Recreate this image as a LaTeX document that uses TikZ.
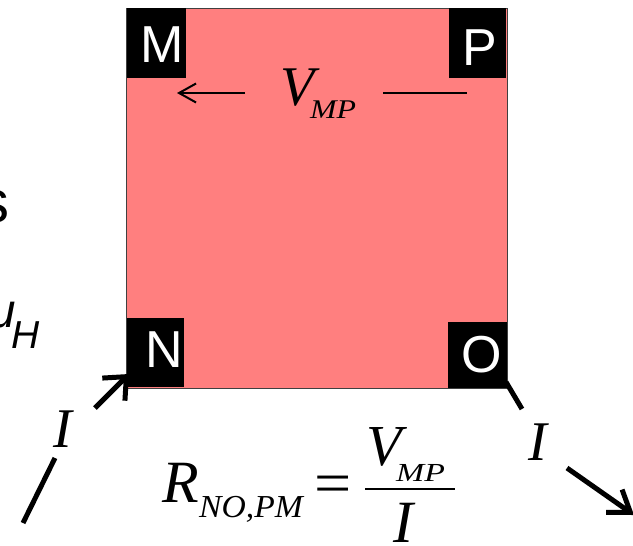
\documentclass[tikz,border=0pt]{standalone}
\usepackage{fontspec}
\setmainfont{Liberation Serif}
\newfontfamily\arialf{Liberation Sans}
\usetikzlibrary{arrows.meta}
\newcommand\myfs[1]{\fontsize{#1}{#1}\selectfont}
\definecolor{sqfill}{HTML}{FF7F7F}
\begin{document}
\begin{tikzpicture}[x=1pt,y=-1pt,
  cornerbox/.style={fill=black,inner sep=0},
  cornerlbl/.style={text=white,font=\arialf\myfs{52},inner sep=0,anchor=base},
  itx/.style={font=\itshape\myfs{#1},inner sep=0,anchor=base west},
  sidetxt/.style={font=\arialf\myfs{#1},inner sep=0},
  cur/.style={line width=5pt},
  curarrowA/.style={cur,-{Straight Barb[length=18pt,width=32pt]}},
  curarrowB/.style={cur,-{Straight Barb[length=20pt,width=28pt]}},
  vline/.style={line width=2pt},
  varrow/.style={vline,-{Straight Barb[length=17pt,width=19pt,line width=2pt]}},
]
\useasboundingbox (0,0) rectangle (633,546);
\clip (0,0) rectangle (633,546);

% the square
\node[draw=black!75,line width=1pt,fill=sqfill,minimum width=381pt,minimum height=380pt,inner sep=0] (sq) at (316.5,198) {};

% corner boxes
\node[cornerbox,minimum width=59pt,minimum height=70pt] (boxM) at (156.5,43) {};
\node[cornerbox,minimum width=57pt,minimum height=70pt] (boxP) at (477.5,43) {};
\node[cornerbox,minimum width=57pt,minimum height=69pt] (boxN) at (155.5,352.5) {};
\node[cornerbox,minimum width=59pt,minimum height=66pt] (boxO) at (477.5,355) {};
\node[cornerlbl] (lM) at (162,63) {M};
\node[cornerlbl] (lP) at (480,65) {P};
\node[cornerlbl] (lN) at (164,367) {N};
\node[cornerlbl] (lO) at (482,372) {O};

% V_MP inside the square
\node[itx=56] (vmp) at (280,105) {V};
\node[itx=27] (vmpsub) at (310,118) {\scalebox{1.18}[1]{MP}};
\coordinate (vl1) at (245,93);
\coordinate (vl2) at (177,93);
\coordinate (vr1) at (383,93);
\coordinate (vr2) at (467,93);
\draw[varrow] (vl1) -- (vl2);
\draw[vline] (vr1) -- (vr2);

% current in (left)
\coordinate (a1) at (23,523);
\coordinate (a2) at (55,458);
\coordinate (a3) at (95,408);
\coordinate (a4) at (129,374);
\draw[cur] (a1) -- (a2);
\draw[curarrowA] (a3) -- (a4);
\node[itx=56] (Iin) at (53,447) {I};

% current out (right)
\coordinate (b1) at (506,382);
\coordinate (b2) at (522,409);
\coordinate (b3) at (567,468);
\coordinate (b4) at (634,515);
\draw[cur] (b1) -- (b2);
\draw[curarrowB] (b3) -- (b4);
\node[itx=56] (Iout) at (528,460) {I};

% formula
\node[itx=60] (fR) at (162,502) {R};
\node[itx=32] (fRsub) at (199,517) {\scalebox{1.05}[1]{NO,PM}};
\node[font=\myfs{60},inner sep=0,anchor=base] (feq) at (333,503) {\scalebox{1.1}[1]{=}};
\coordinate (fb1) at (365,489);
\coordinate (fb2) at (455,489);
\draw[line width=2.5pt] (fb1) -- (fb2);
\node[itx=58] (fV) at (366,465) {V};
\node[itx=26] (fVsub) at (396,481) {\scalebox{1.3}[1]{MP}};
\node[itx=60] (fI) at (393,542) {I};

% cut-off text at the left edge
\node[sidetxt=60,anchor=base east] (ts) at (10,222) {s};
\node[sidetxt=48,anchor=base east,font=\arialf\itshape\myfs{48}] (tmu) at (16,327) {μ};
\node[sidetxt=39,anchor=base west,font=\arialf\itshape\myfs{39}] (tH) at (11,348) {H};
\end{tikzpicture}
\end{document}
